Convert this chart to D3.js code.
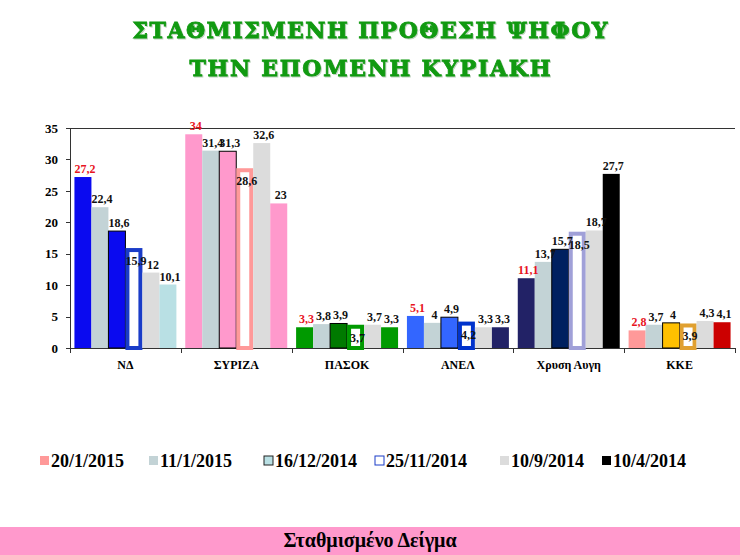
<!DOCTYPE html>
<html lang="el">
<head>
  <meta charset="UTF-8">
  <title>Σταθμισμένη πρόθεση ψήφου</title>
  <script src="https://d3js.org/d3.v7.min.js"></script>
  <style>
    body { margin: 0; background: #fff; }
    svg { display: block; }
    .axis text { font-family: "Liberation Serif", serif; font-weight: bold; font-size: 13px; fill: #000; }
    .axis path, .axis line { stroke: #333; shape-rendering: crispEdges; }
    .lbl { font-family: "Liberation Serif", serif; font-weight: bold; font-size: 12px; }
    .title { font-family: "DejaVu Serif", serif; font-weight: bold; font-size: 22px; fill: #119a11; stroke: #119a11; stroke-width: 0.8px; }
    .legend text { font-family: "Liberation Serif", serif; font-weight: bold; font-size: 18px; }
  </style>
</head>
<body>
  <svg width="740" height="555"></svg>

  <script>
    const parties = ['ΝΔ', 'ΣΥΡΙΖΑ', 'ΠΑΣΟΚ', 'ΑΝΕΛ', 'Χρυση Αυγη', 'ΚΚΕ'];
    const polls = ['20/1/2015', '11/1/2015', '16/12/2014', '25/11/2014', '10/9/2014', '10/4/2014'];

    // one array per poll, in party order
    const jan20 = [27.2, 34, 3.3, 5.1, 11.1, 2.8];
    const jan11 = [22.4, 31.4, 3.8, 4, 13.7, 3.7];
    const dec16 = [18.6, 31.3, 3.9, 4.9, 15.7, 4];
    const nov25 = [15.9, 28.6, 3.7, 4.2, 18.5, 3.9];
    const sep10 = [12, 32.6, 3.7, 3.3, 18.7, 4.3];
    const apr10 = [10.1, 23, 3.3, 3.3, 27.7, 4.1];
    const series = [jan20, jan11, dec16, nov25, sep10, apr10];

    const yTicks = [0, 5, 10, 15, 20, 25, 30, 35];

    // party colours, one per poll
    const partyColors = {
      'ΝΔ':         ['#0a0af0', '#c3d3d6', '#0a0af0', '#1a3cc8', '#dcdcdc', '#b9e0e4'],
      'ΣΥΡΙΖΑ':     ['#ff99cc', '#c3d3d6', '#ff99cc', '#ff9999', '#dcdcdc', '#ff99cc'],
      'ΠΑΣΟΚ':      ['#009a00', '#c3d3d6', '#007a00', '#009a00', '#dcdcdc', '#009a00'],
      'ΑΝΕΛ':       ['#3366ff', '#c3d3d6', '#3366ff', '#0033cc', '#dcdcdc', '#222266'],
      'Χρυση Αυγη': ['#222266', '#c3d3d6', '#002060', '#a0a0d8', '#dcdcdc', '#000000'],
      'ΚΚΕ':        ['#ff9999', '#c3d3d6', '#ffc000', '#e0a030', '#dcdcdc', '#cc0000']
    };
    const legendColors = ['#ff9999', '#c3d3d6', '#b9e0e4', '#fff', '#dcdcdc', '#000'];

    const svg = d3.select('svg');

    // title
    const titleLines = ['ΣΤΑΘΜΙΣΜΕΝΗ ΠΡΟΘΕΣΗ ΨΗΦΟΥ', 'ΤΗΝ ΕΠΟΜΕΝΗ ΚΥΡΙΑΚΗ'];
    titleLines.forEach((t, i) => {
      svg.append('text')
        .attr('class', 'title')
        .attr('x', 370)
        .attr('y', 38 + i * 38)
        .attr('text-anchor', 'middle')
        .attr('textLength', t.length * 19)
        .attr('lengthAdjust', 'spacing')
        .style('filter', 'drop-shadow(1px 1px 0px rgba(0,80,0,0.25))')
        .text(t);
    });

    const pLeft = 70, pRight = 735, pTop = 128, pBottom = 348;

    const x = d3.scaleBand()
      .domain(parties)
      .range([pLeft, pRight])
      .paddingInner(0.08)
      .paddingOuter(0.04);

    const xs = d3.scaleBand()
      .domain(d3.range(polls.length))
      .range([0, x.bandwidth()]);

    const y = d3.scaleLinear()
      .domain([0, 35])
      .range([pBottom, pTop]);

    // top frame line
    svg.append('line')
      .attr('x1', pLeft).attr('x2', pRight)
      .attr('y1', pTop + 0.5).attr('y2', pTop + 0.5)
      .attr('stroke', '#333');

    svg.append('g')
      .attr('class', 'axis')
      .attr('transform', `translate(${pLeft},0)`)
      .call(d3.axisLeft(y).tickValues(yTicks).tickSize(4).tickPadding(8))
      .call(g => g.select('.domain').attr('d', `M-4,${pTop}H0V${pBottom}`));

    // bottom axis: ticks between groups
    const step = x.step();
    const bx = svg.append('g').attr('class', 'axis');
    bx.append('line')
      .attr('x1', pLeft).attr('x2', pRight)
      .attr('y1', pBottom + 0.5).attr('y2', pBottom + 0.5);
    d3.range(parties.length + 1).forEach(i => {
      const xx = Math.round(pLeft + i * step) + 0.5;
      bx.append('line')
        .attr('x1', xx).attr('x2', xx)
        .attr('y1', pBottom).attr('y2', pBottom + 5);
    });
    bx.selectAll('text.cat')
      .data(parties)
      .enter()
      .append('text')
      .attr('class', 'cat')
      .attr('x', d => x(d) + x.bandwidth() / 2)
      .attr('y', 369)
      .attr('text-anchor', 'middle')
      .style('font-size', '12px')
      .text(d => d);

    // bars
    const cells = [];
    parties.forEach((p, i) => {
      series.forEach((s, j) => cells.push({ party: p, j: j, v: s[i] }));
    });

    svg.selectAll('.bar')
      .data(cells)
      .enter()
      .append('rect')
      .attr('class', 'bar')
      .each(function (d) {
        const col = partyColors[d.party][d.j];
        const r = d3.select(this);
        const x0 = x(d.party) + xs(d.j);
        const w = xs.bandwidth();
        if (d.j === 3) {
          // hollow bar with thick coloured border
          r.attr('x', x0 + 2).attr('width', w - 4)
            .attr('y', y(d.v) + 2).attr('height', pBottom - y(d.v) - 2)
            .attr('fill', '#fff').attr('stroke', col).attr('stroke-width', 4);
        } else {
          r.attr('x', x0).attr('width', w)
            .attr('y', y(d.v)).attr('height', pBottom - y(d.v))
            .attr('fill', col)
            .attr('stroke', d.j === 2 ? '#000' : 'none')
            .attr('stroke-width', d.j === 2 ? 1 : 0);
        }
      });

    // value labels
    svg.selectAll('.lbl')
      .data(cells)
      .enter()
      .append('text')
      .attr('class', 'lbl')
      .attr('x', d => x(d.party) + xs(d.j) + xs.bandwidth() / 2 + 2)
      .attr('y', d => d.j === 3 ? y(d.v) + 17 : y(d.v) - 4)
      .attr('text-anchor', 'middle')
      .attr('fill', d => d.j === 0 ? '#e8141e' : '#111')
      .text(d => String(d.v).replace('.', ','));

    // legend
    const legendX = [40, 149, 264, 375, 500, 602];
    const lg = svg.append('g').attr('class', 'legend');
    polls.forEach((p, j) => {
      const g = lg.append('g').attr('transform', `translate(${legendX[j]},467)`);
      g.append('rect')
        .attr('x', 0).attr('y', -11)
        .attr('width', 9).attr('height', 9)
        .attr('fill', legendColors[j])
        .attr('stroke', j === 2 ? '#222' : (j === 3 ? '#1a3cc8' : 'none'))
        .attr('stroke-width', 1);
      g.append('text')
        .attr('x', 11).attr('y', 0)
        .text(p);
    });

    // footer band
    svg.append('rect')
      .attr('x', 0).attr('y', 527)
      .attr('width', 740).attr('height', 28)
      .attr('fill', '#ff99cc');
    svg.append('text')
      .attr('x', 370).attr('y', 547)
      .attr('text-anchor', 'middle')
      .style('font-family', '"Liberation Serif", serif')
      .style('font-weight', 'bold')
      .style('font-size', '20px')
      .text('Σταθμισμένο Δείγμα');
  </script>
</body>
</html>
